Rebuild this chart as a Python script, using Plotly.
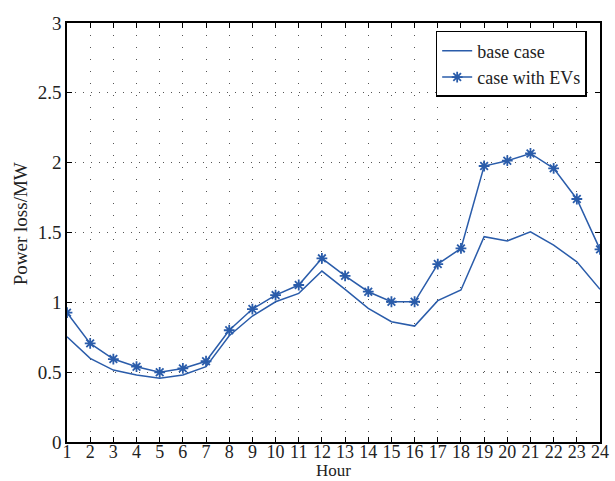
import plotly.graph_objects as go

hours = list(range(1, 25))
base_case = [0.754, 0.599, 0.515, 0.480, 0.456, 0.480, 0.539, 0.761, 0.902, 1.004,
             1.064, 1.224, 1.093, 0.957, 0.861, 0.830, 1.012, 1.088, 1.470, 1.440,
             1.505, 1.410, 1.290, 1.093]
with_evs = [0.926, 0.706, 0.594, 0.539, 0.499, 0.527, 0.578, 0.800, 0.952, 1.052,
            1.124, 1.315, 1.190, 1.076, 1.004, 1.004, 1.274, 1.386, 1.976, 2.014,
            2.066, 1.959, 1.740, 1.379]
x_ticks = hours
y_ticks = [0, 0.5, 1, 1.5, 2, 2.5, 3]
y_labels = ["0", "0.5", "1", "1.5", "2", "2.5", "3"]

blue = "#2A5CAA"
font = "Liberation Serif"
text_color = "#222222"

fig = go.Figure()
fig.add_trace(go.Scatter(x=hours, y=base_case, mode="lines", name="base case",
                         line=dict(color=blue, width=1.5)))
fig.add_trace(go.Scatter(x=hours, y=with_evs, mode="lines+markers", name="case with EVs",
                         line=dict(color=blue, width=1.5),
                         marker=dict(symbol="asterisk-open", size=9,
                                     line=dict(color=blue, width=1.8))))

axis_common = dict(showline=True, linecolor="black", linewidth=1.5, mirror="ticks",
                   ticks="inside", ticklen=5, tickcolor="black",
                   showgrid=True, gridcolor="#555555", gridwidth=1,
                   zeroline=False, automargin=False)

fig.update_xaxes(range=[1, 24], tickvals=x_ticks, ticktext=[str(h) for h in x_ticks],
                 griddash="1px,11px", ticklabelstandoff=-7,
                 tickfont=dict(family=font, size=18, color=text_color), **axis_common)
fig.update_yaxes(range=[0, 3], tickvals=y_ticks, ticktext=y_labels,
                 griddash="1px,7px",
                 tickfont=dict(family=font, size=19, color=text_color), **axis_common)

# axis titles placed as annotations so they sit clear of the tick labels
fig.add_annotation(text="Hour", xref="paper", yref="paper", x=0.5, y=-0.094,
                   xanchor="center", yanchor="bottom", showarrow=False, borderpad=0,
                   font=dict(family=font, size=17, color=text_color))
fig.add_annotation(text="Power loss/MW", xref="paper", yref="paper", x=-0.088, y=0.52,
                   xanchor="center", yanchor="middle", textangle=-90, showarrow=False,
                   font=dict(family=font, size=19, color=text_color))

fig.update_layout(
    width=615, height=481,
    margin=dict(l=67, r=15, t=23, b=39),
    plot_bgcolor="white", paper_bgcolor="white",
    font=dict(family=font, size=18, color=text_color),
    legend=dict(x=0.975, y=0.981, xanchor="right", yanchor="top",
                bgcolor="white", bordercolor="black", borderwidth=1.5,
                font=dict(family=font, size=18, color=text_color),
                tracegroupgap=0),
    showlegend=True,
)

fig.write_html("out.html")
